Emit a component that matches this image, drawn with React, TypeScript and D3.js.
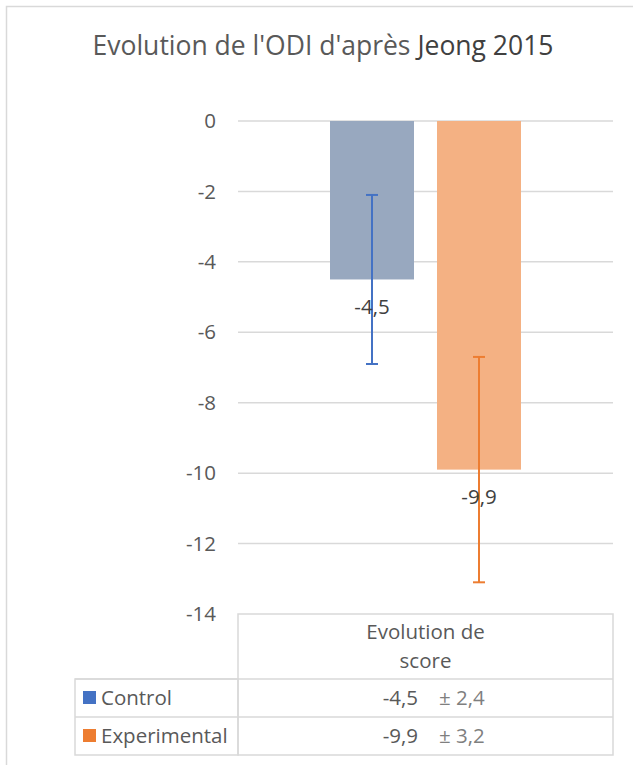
import * as d3 from 'd3';

const title = "Evolution de l'ODI d'après ";
const titleEnd = 'Jeong 2015';
const categoryLines = ['Evolution de', 'score'];
const series = ['Control', 'Experimental'];
const values = [-4.5, -9.9];
const errors = [2.4, 3.2];
const yTicks = [0, -2, -4, -6, -8, -10, -12, -14];

const barColors = ['#98A8BF', '#F4B183'];
const keyColors = ['#4472C4', '#ED7D31'];

const fmt = (v: number) => String(v).replace('.', ',');

const App = () => {
  const width = 633;
  const height = 765;
  const font = '"Open Sans", Lato, sans-serif';
  const fs = 20.5;

  // plot area
  const left = 238;
  const right = 613;
  const y = d3.scaleLinear().domain([-14, 0]).range([614, 121]);
  const x = d3
    .scaleBand<string>()
    .domain(series)
    .range([left, right])
    .paddingInner(0.215)
    .paddingOuter(0.86);

  // table
  const tableLeft = 75;
  const headTop = y(-14);
  const rowTops = [679, 717];
  const rowH = 38;
  const tableBottom = rowTops[1] + rowH;

  return (
    <svg
      width={width}
      height={height}
      style={{ position: 'absolute', left: 0, top: 0, background: '#fff' }}
      fontFamily={font}
    >
      {/* outer frame */}
      <path d={`M6.5,${height} V6.5 H${width}`} fill="none" stroke="#D9D9D9" strokeWidth={1.5} />

      <text x={323} y={55} textAnchor="middle" fontSize={26.5} fill="#595959">
        {title}
        <tspan fill="#404040">{titleEnd}</tspan>
      </text>

      {/* gridlines + ticks */}
      {yTicks.map((t) => (
        <g key={t}>
          {t !== -14 && (
            <line x1={left} x2={right} y1={y(t)} y2={y(t)} stroke="#D9D9D9" strokeWidth={1.5} />
          )}
          <text x={216} y={y(t)} dy="0.35em" textAnchor="end" fontSize={fs} fill="#595959">
            {t}
          </text>
        </g>
      ))}

      {/* bars */}
      {series.map((s, i) => (
        <rect
          key={s}
          x={x(s)}
          y={y(0)}
          width={x.bandwidth()}
          height={y(values[i]) - y(0)}
          fill={barColors[i]}
        />
      ))}

      {/* error bars */}
      {series.map((s, i) => {
        const cx = (x(s) as number) + x.bandwidth() / 2;
        const y1 = y(values[i] + errors[i]);
        const y2 = y(values[i] - errors[i]);
        return (
          <g key={s} stroke={keyColors[i]} strokeWidth={2}>
            <line x1={cx} x2={cx} y1={y1} y2={y2} />
            <line x1={cx - 6} x2={cx + 6} y1={y1} y2={y1} />
            <line x1={cx - 6} x2={cx + 6} y1={y2} y2={y2} />
          </g>
        );
      })}

      {/* data labels */}
      {series.map((s, i) => (
        <text
          key={s}
          x={(x(s) as number) + x.bandwidth() / 2}
          y={y(values[i]) + 27}
          dy="0.35em"
          textAnchor="middle"
          fontSize={fs}
          fill="#404040"
        >
          {fmt(values[i])}
        </text>
      ))}

      {/* data table */}
      <g fill="none" stroke="#D9D9D9" strokeWidth={1.5}>
        <rect x={left} y={headTop} width={right - left} height={tableBottom - headTop} />
        <rect x={tableLeft} y={rowTops[0]} width={left - tableLeft} height={tableBottom - rowTops[0]} />
        {rowTops.map((r) => (
          <line key={r} x1={tableLeft} x2={right} y1={r} y2={r} />
        ))}
      </g>
      {categoryLines.map((l, i) => (
        <text
          key={l}
          x={(left + right) / 2}
          y={632 + i * 29}
          dy="0.35em"
          textAnchor="middle"
          fontSize={fs}
          fill="#595959"
        >
          {l}
        </text>
      ))}
      {series.map((s, i) => {
        const cy = rowTops[i] + rowH / 2;
        return (
          <g key={s}>
            <rect x={83} y={cy - 7} width={13} height={13} fill={keyColors[i]} />
            <text x={101} y={cy} dy="0.35em" fontSize={fs} fill="#595959">
              {s}
            </text>
            <text x={418} y={cy} dy="0.35em" textAnchor="end" fontSize={fs} fill="#595959">
              {fmt(values[i])}
            </text>
            <text x={439} y={cy} dy="0.35em" fontSize={fs} fill="#7F7F7F">
              {`± ${fmt(errors[i])}`}
            </text>
          </g>
        );
      })}
    </svg>
  );
};

export default App;
